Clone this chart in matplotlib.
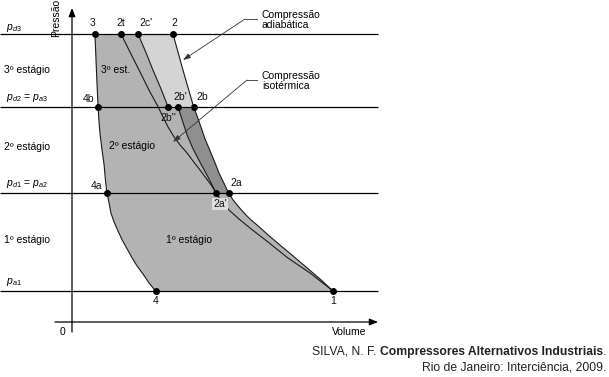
import matplotlib
matplotlib.use("Agg")
import matplotlib.pyplot as plt
import numpy as np

plt.rcParams["font.family"] = ["Liberation Sans", "DejaVu Sans"]
plt.rcParams["mathtext.fontset"] = "custom"
plt.rcParams["mathtext.it"] = "Liberation Sans:italic"
plt.rcParams["mathtext.rm"] = "Liberation Sans"

# --- Figure size (pixels) and placement of the p-V origin ---
W, H = 609, 377
X0_PX, Y0_PX = 72, 322        # where V = 0, p = 0 sits in the picture
V_SCALE, P_SCALE = 26.1, 31.0  # pixels per unit of volume / pressure

# --- Pressure levels (schematic units, p_a1 = 1) ---
P_A1 = 1.00
P_D1 = 4.16
P_D2 = 6.94
P_D3 = 9.29
pressure_levels = [P_A1, P_D1, P_D2, P_D3]

# --- Curves, top -> bottom (volume, pressure) ---
expansion_v = [0.88, 0.92, 0.96, 1.00, 1.03, 1.07, 1.15, 1.23, 1.28, 1.34, 1.42,
               1.49, 1.61, 1.76, 1.92, 2.11, 2.30, 2.49, 2.72, 2.95, 3.20]
expansion_p = [9.29, 8.45, 7.65, 6.94, 6.52, 6.10, 5.55, 5.07, 4.58, 4.16, 3.84,
               3.52, 3.23, 2.94, 2.65, 2.36, 2.07, 1.81, 1.55, 1.26, 1.00]

adiabatic_v = [3.87, 4.25, 4.66, 4.79, 4.94, 5.10, 5.29, 5.48, 5.63, 5.82, 6.00,
               6.17, 6.36, 6.59, 6.82, 7.13, 7.51, 7.97, 8.47, 8.97, 9.50, 10.0]
adiabatic_p = [9.29, 8.13, 6.94, 6.65, 6.29, 5.90, 5.52, 5.13, 4.81, 4.48, 4.16,
               3.94, 3.74, 3.52, 3.32, 3.10, 2.81, 2.48, 2.13, 1.77, 1.39, 1.00]

isotherm_v = [1.88, 2.22, 2.61, 2.95, 3.30, 3.49, 3.68, 3.91, 4.14, 4.41, 4.64, 4.87,
              5.10, 5.33, 5.52, 5.75, 6.02, 6.36, 6.82, 7.51, 8.28, 9.12, 10.0]
isotherm_p = [9.29, 8.71, 8.06, 7.48, 6.94, 6.61, 6.29, 5.97, 5.71, 5.45, 5.19, 4.94,
              4.68, 4.42, 4.16, 3.87, 3.61, 3.35, 3.03, 2.58, 2.06, 1.58, 1.00]

stage2_v = [4.06, 4.22, 4.41, 4.64, 4.90, 5.21, 5.52]
stage2_p = [6.94, 6.52, 6.03, 5.58, 5.16, 4.68, 4.16]

stage3_v = [2.53, 2.84, 3.10, 3.41, 3.68]
stage3_p = [9.29, 8.68, 8.13, 7.52, 6.94]

# --- State points ---
point_names = ["1", "2", "2t", "2c'", "3", "2b", "2b'", "2b''", "4b", "2a", "2a'", "4a", "4"]
point_v = [10.0, 3.87, 1.88, 2.53, 0.88, 4.66, 4.06, 3.68, 1.00, 6.00, 5.52, 1.34, 3.20]
point_p = [1.00, 9.29, 9.29, 9.29, 9.29, 6.94, 6.94, 6.94, 6.94, 4.16, 4.16, 4.16, 1.00]
# label offsets in pixels (dx right, dy up)
label_offsets = {
    "1": (0, -10), "2": (1, 11), "2t": (0, 11), "2c'": (8, 11), "3": (-2, 11),
    "2b": (9, 10), "2b'": (2, 10), "2b''": (0, -11), "4b": (-10, 8),
    "2a": (8, 10), "2a'": (4, -11), "4a": (-10, 7), "4": (0, -10),
}

# --- Left-hand labels ---
level_labels = [r"$\mathit{p_{a1}}$", r"$\mathit{p_{d1}}$ = $\mathit{p_{a2}}$",
                r"$\mathit{p_{d2}}$ = $\mathit{p_{a3}}$", r"$\mathit{p_{d3}}$"]
stage_labels = ["1º estágio", "2º estágio", "3º estágio"]

MEDIUM = "#b3b3b3"
LIGHT = "#d4d4d4"
DARK = "#8f8f8f"
LINE = "#1a1a1a"


def fig_xy(x, y):
    """picture pixel -> figure fraction"""
    return x / W, 1 - y / H


fig = plt.figure(figsize=(W / 100, H / 100), dpi=100)
ax = fig.add_axes([0, 0, 1, 1])
ax.set_xlim(-X0_PX / V_SCALE, (W - X0_PX) / V_SCALE)
ax.set_ylim((Y0_PX - H) / P_SCALE, Y0_PX / P_SCALE)
ax.axis("off")

ev, ep = np.array(expansion_v), np.array(expansion_p)
av, ap = np.array(adiabatic_v), np.array(adiabatic_p)
s2v, s2p = np.array(stage2_v), np.array(stage2_p)
s3v, s3p = np.array(stage3_v), np.array(stage3_p)
eps = 1e-6

# medium grey: the real three-stage cycle
low = ap <= P_D1 + eps
poly_v = np.concatenate([ev, av[low][::-1], s2v[::-1], s3v[::-1]])
poly_p = np.concatenate([ep, ap[low][::-1], s2p[::-1], s3p[::-1]])
ax.fill(poly_v, poly_p, color=MEDIUM, lw=0, zorder=1)

# dark grey: saving in 2nd stage
mid = (ap >= P_D1 - eps) & (ap <= P_D2 + eps)
ax.fill(np.concatenate([av[mid], s2v[::-1]]), np.concatenate([ap[mid], s2p[::-1]]),
        color=DARK, lw=0, zorder=1)

# light grey: saving in 3rd stage
high = ap >= P_D2 - eps
ax.fill(np.concatenate([av[high], s3v[::-1]]), np.concatenate([ap[high], s3p[::-1]]),
        color=LIGHT, lw=0, zorder=1)

# pressure levels
v_left = -X0_PX / V_SCALE
v_right = (378 - X0_PX) / V_SCALE
ax.hlines(pressure_levels, v_left, v_right, color="black", lw=0.9, zorder=2)

# curves
for cv, cp in [(expansion_v, expansion_p), (adiabatic_v, adiabatic_p),
               (isotherm_v, isotherm_p), (stage2_v, stage2_p), (stage3_v, stage3_p)]:
    ax.plot(cv, cp, color=LINE, lw=0.8, zorder=3, solid_joinstyle="round")

# axes with arrows
arrow_kw = dict(arrowstyle="-|>,head_length=0.5,head_width=0.2", color="black",
                lw=0.9, shrinkA=0, shrinkB=0, mutation_scale=10)
ax.annotate("", xy=(0, (Y0_PX - 8) / P_SCALE), xytext=(0, (Y0_PX - 332) / P_SCALE),
            arrowprops=arrow_kw, zorder=2)
ax.annotate("", xy=(v_right, 0), xytext=((55 - X0_PX) / V_SCALE, 0),
            arrowprops=arrow_kw, zorder=2)

# state points
ax.plot(point_v, point_p, "o", color="black", ms=4, zorder=4)
for name, v, p in zip(point_names, point_v, point_p):
    dx, dy = label_offsets[name]
    kw = {}
    if name == "2a'":
        kw["bbox"] = dict(boxstyle="square,pad=0.1", fc="#dedede", ec="none")
    ax.annotate(name, (v, p), xytext=(dx, dy), textcoords="offset pixels",
                ha="center", va="center", fontsize=7.5, color="#111111", zorder=5, **kw)

# left labels
for lab, y in zip(level_labels, [282, 184, 98, 28]):
    fig.text(*fig_xy(6, y), lab, fontsize=7.5, ha="left", va="center")
for lab, y in zip(stage_labels, [240, 147, 70]):
    fig.text(*fig_xy(4, y), lab, fontsize=7.5, ha="left", va="center")

# labels inside regions
fig.text(*fig_xy(116, 70), "3º est.", fontsize=7.5, ha="center", va="center")
fig.text(*fig_xy(132, 146), "2º estágio", fontsize=7.5, ha="center", va="center")
fig.text(*fig_xy(189, 240), "1º estágio", fontsize=7.5, ha="center", va="center")

# axis titles
fig.text(*fig_xy(62, 332), "0", fontsize=7.5, ha="center", va="center")
fig.text(*fig_xy(349, 332), "Volume", fontsize=7.5, ha="center", va="center")
fig.text(*fig_xy(56, 18), "Pressão", fontsize=7.5, ha="center", va="center", rotation=90)

# callouts
lead_kw = dict(arrowstyle="-|>,head_length=0.45,head_width=0.15", color="#333333",
               lw=0.6, shrinkA=0, shrinkB=0, mutation_scale=10)
for text, ty, start, tip in [("Compressão\nadiabática", 20, (245, 19), (183, 60)),
                             ("Compressão\nisotérmica", 81, (247, 80), (173, 142))]:
    fig.text(*fig_xy(262, ty), text, fontsize=7.5, ha="left", va="center", linespacing=1.1)
    fig.add_artist(plt.Line2D([start[0] / W, 257 / W], [1 - start[1] / H, 1 - start[1] / H],
                              color="#333333", lw=0.6))
    fig.add_artist(matplotlib.patches.FancyArrowPatch(
        fig_xy(*start), fig_xy(*tip), transform=fig.transFigure, **lead_kw))

# reference (normal + bold + normal, right-aligned)
REF_FS = 8.7
pieces = [("SILVA, N. F.", "normal"), ("Compressores Alternativos Industriais", "bold"),
          (".", "normal")]
texts = [fig.text(0, 1 - 352 / H, s, fontsize=REF_FS, fontweight=w, ha="left",
                  va="center", color="#222222") for s, w in pieces]
probe_a = fig.text(0, 0, "xx", fontsize=REF_FS)
probe_b = fig.text(0, 0, "x x", fontsize=REF_FS)
fig.canvas.draw()
r = fig.canvas.get_renderer()
space = probe_b.get_window_extent(r).width - probe_a.get_window_extent(r).width
probe_a.remove()
probe_b.remove()
widths = [t.get_window_extent(r).width for t in texts]
gaps = [space, 0, 0]
x = 606 - sum(widths) - sum(gaps)
for t, wd, g in zip(texts, widths, gaps):
    t.set_x(x / W)
    x += wd + g
fig.text(*fig_xy(606, 368), "Rio de Janeiro: Interciência, 2009.", fontsize=REF_FS,
         ha="right", va="center", color="#222222")

fig.savefig("out.png", dpi=100)
